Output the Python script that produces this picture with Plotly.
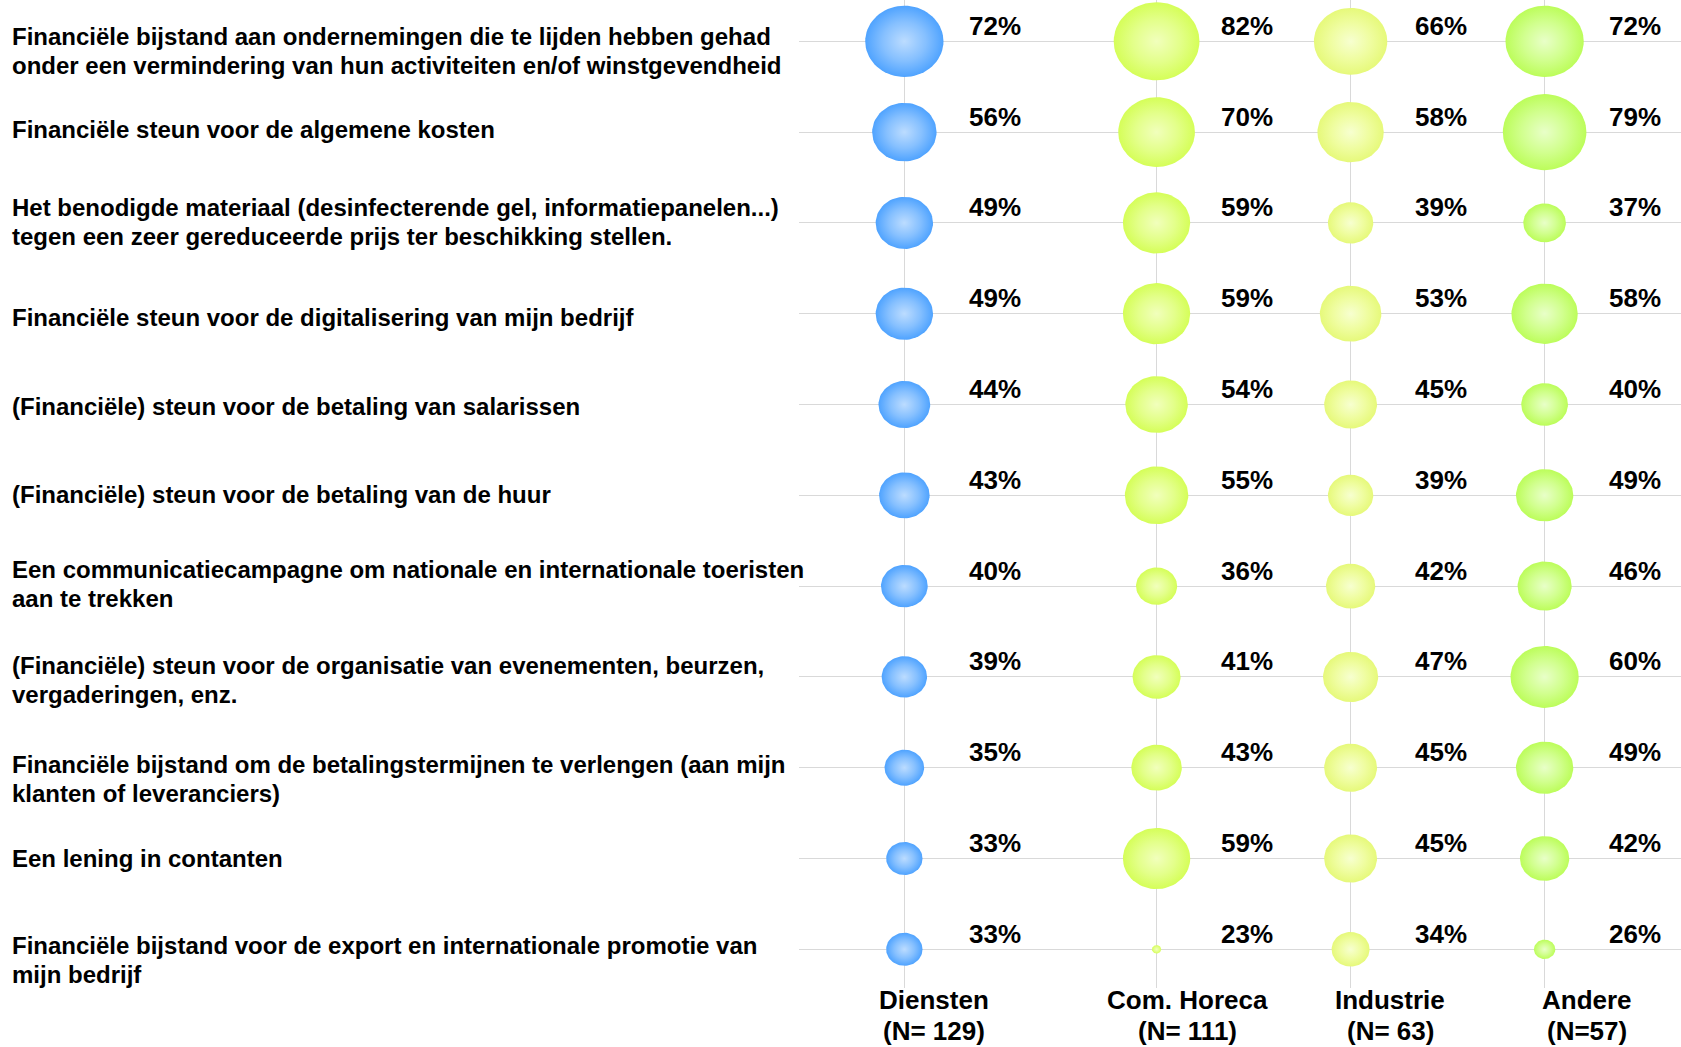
import numpy as np
import plotly.graph_objects as go

# ---- data -------------------------------------------------------------
ITEMS = [
    "Financiële bijstand aan ondernemingen die te lijden hebben gehad<br>onder een vermindering van hun activiteiten en/of winstgevendheid",
    "Financiële steun voor de algemene kosten",
    "Het benodigde materiaal (desinfecterende gel, informatiepanelen...)<br>tegen een zeer gereduceerde prijs ter beschikking stellen.",
    "Financiële steun voor de digitalisering van mijn bedrijf",
    "(Financiële) steun voor de betaling van salarissen",
    "(Financiële) steun voor de betaling van de huur",
    "Een communicatiecampagne om nationale en internationale toeristen<br>aan te trekken",
    "(Financiële) steun voor de organisatie van evenementen, beurzen,<br>vergaderingen, enz.",
    "Financiële bijstand om de betalingstermijnen te verlengen (aan mijn<br>klanten of leveranciers)",
    "Een lening in contanten",
    "Financiële bijstand voor de export en internationale promotie van<br>mijn bedrijf",
]

SECTORS = ["Diensten", "Com. Horeca", "Industrie", "Andere"]
SECTOR_N = ["(N= 129)", "(N= 111)", "(N= 63)", "(N=57)"]

DIENSTEN = [72, 56, 49, 49, 44, 43, 40, 39, 35, 33, 33]
HORECA = [82, 70, 59, 59, 54, 55, 36, 41, 43, 59, 23]
INDUSTRIE = [66, 58, 39, 53, 45, 39, 42, 47, 45, 45, 34]
ANDERE = [72, 79, 37, 58, 40, 49, 46, 60, 49, 42, 26]

# ---- layout / style ---------------------------------------------------
W, H = 1681, 1047
COL_X = [1.0, 2.3, 3.3, 4.3]
X_RANGE = [0.457, 5.003]
Y_RANGE = [0.574, 11.455]
X_DOMAIN = [799 / W, 1.0]
Y_DOMAIN = [1 - 988 / H, 1.0]
PX_PER_X = (X_DOMAIN[1] - X_DOMAIN[0]) * W / (X_RANGE[1] - X_RANGE[0])
PX_PER_Y = (Y_DOMAIN[1] - Y_DOMAIN[0]) * H / (Y_RANGE[1] - Y_RANGE[0])

GRADIENTS = [
    [[0, "#bcdcff"], [0.55, "#86c0ff"], [1, "#4fa3ff"]],
    [[0, "#f1ffbc"], [0.55, "#e3ff8a"], [1, "#d5fe58"]],
    [[0, "#f7ffd0"], [0.55, "#effda0"], [1, "#e6f97a"]],
    [[0, "#e8ffc8"], [0.55, "#d1ff8e"], [1, "#bcfd5a"]],
]
FONT = "Arial, Liberation Sans, sans-serif"


def bubble_px(v):
    """Bubble width in pixels for a percentage value."""
    return 11.1 * np.sqrt(max(v - 22.3, 0.4))


fig = go.Figure()

series = [DIENSTEN, HORECA, INDUSTRIE, ANDERE]
n_rows = len(ITEMS)
theta = np.linspace(0, 2 * np.pi, 73)
annotations = []

for ci, values in enumerate(series):
    cx = COL_X[ci]
    for ri, v in enumerate(values):
        cy = n_rows - ri
        w_px = bubble_px(v)
        h_px = 0.91 * w_px
        rx = w_px / 2 / PX_PER_X
        ry = h_px / 2 / PX_PER_Y
        fig.add_trace(go.Scatter(
            x=cx + rx * np.cos(theta),
            y=cy + ry * np.sin(theta),
            mode="lines",
            line=dict(width=0),
            fill="toself",
            fillcolor=GRADIENTS[ci][-1][1],
            fillgradient=dict(type="radial", colorscale=GRADIENTS[ci]),
            hoverinfo="skip",
            showlegend=False,
        ))
        annotations.append(dict(
            x=cx, y=cy, xref="x", yref="y",
            text=f"{v}%", showarrow=False,
            xanchor="center", yanchor="middle",
            xshift=90.6, yshift=15.5,
            font=dict(family=FONT, size=26, color="#000000", weight="bold"),
        ))

# row labels on the left
LABEL_SHIFT = [10, -3, -1, 4, 2, -1, -2, 3, 11, 0, 11]
LINE_GAP = 29
for ri, label in enumerate(ITEMS):
    lines = label.split("<br>")
    n = len(lines)
    for li, line in enumerate(lines):
        off = (li - (n - 1) / 2) * LINE_GAP + LABEL_SHIFT[ri]
        annotations.append(dict(
            x=0, y=n_rows - ri, xref="paper", yref="y",
            text=line, showarrow=False,
            xanchor="left", yanchor="middle",
            xshift=10, yshift=-off,
            font=dict(family=FONT, size=24, color="#000000", weight="bold"),
        ))

# sector labels under the columns
SECTOR_SHIFT = [30, 31, 39.5, 42]
for ci, (name, nlab) in enumerate(zip(SECTORS, SECTOR_N)):
    for li, txt in enumerate([name, nlab]):
        annotations.append(dict(
            x=COL_X[ci], y=0, xref="x", yref="paper",
            text=txt, showarrow=False,
            xanchor="center", yanchor="middle",
            xshift=SECTOR_SHIFT[ci], yshift=47 - li * 31,
            font=dict(family=FONT, size=26, color="#000000", weight="bold"),
        ))

fig.update_layout(
    width=W, height=H, autosize=False,
    margin=dict(l=0, r=0, t=0, b=0),
    paper_bgcolor="white", plot_bgcolor="white",
    showlegend=False,
    annotations=annotations,
    xaxis=dict(
        domain=X_DOMAIN, range=X_RANGE, tickvals=COL_X,
        showticklabels=False, showgrid=True, gridcolor="#d9d9d9", gridwidth=1,
        zeroline=False, showline=False, ticks="", fixedrange=True,
    ),
    yaxis=dict(
        domain=Y_DOMAIN, range=Y_RANGE, tickvals=list(range(1, n_rows + 1)),
        showticklabels=False, showgrid=True, gridcolor="#d9d9d9", gridwidth=1,
        zeroline=False, showline=False, ticks="", fixedrange=True,
    ),
)

fig.write_html("out.html")
